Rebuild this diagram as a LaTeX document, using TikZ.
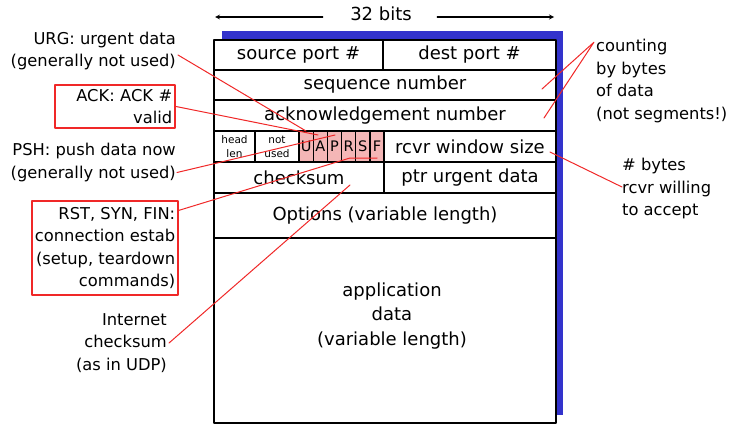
\documentclass[tikz,border=0pt]{standalone}
\usepackage{fontspec}
\setmainfont{DejaVu Sans}
\usetikzlibrary{positioning,calc}
\definecolor{hdrblue}{RGB}{51,51,204}
\definecolor{flagpink}{RGB}{244,182,182}
\definecolor{notered}{RGB}{240,40,40}
\begin{document}
\begin{tikzpicture}[x=1pt, y=-1pt, line cap=round, line join=round, >=stealth]
			\tikzset{field/.style={draw, line width=1.3pt, inner sep=0pt, outer sep=0pt, anchor=north west, font=\fontsize{18}{19}\selectfont},
				flag/.style={field, fill=flagpink, minimum width=14.17pt, minimum height=31pt, font=\fontsize{14.5}{16}\selectfont},
				tiny/.style={field, minimum height=31pt, align=center, font=\fontsize{10.5}{14}\selectfont},
				note/.style={font=\fontsize{16.3}{22.5}\selectfont, inner sep=2pt},
				notebox/.style={note, draw=notered, line width=1.6pt, inner xsep=3pt},
				callout/.style={draw=notered, line width=1pt}}
			\useasboundingbox (0,0) rectangle (740,431);
			% segment with its shadow
			\fill[hdrblue] (222,31) rectangle (563,415);
			\fill[white] (214,40) rectangle (556,423);
			\node[field, minimum width=169pt, minimum height=30pt] (srcport) at (214,40) {source port \#};
			\node[field, minimum width=173pt, minimum height=30pt] (dstport) at (383,40) {dest port \#};
			\node[field, minimum width=342pt, minimum height=30pt] (seqnum) at (214,70) {sequence number};
			\node[field, minimum width=342pt, minimum height=31pt] (acknum) at (214,100) {acknowledgement number};
			\node[tiny, minimum width=41pt] (hlen) at (214,131) {head\\len};
			\node[tiny, minimum width=44pt] (unused) at (255,131) {not\\used};
			\foreach \f [count=\i from 0] in {U,A,P,R,S,F}
				\node[flag] (flag\f) at (299+\i*14.17,131) {\f};
			\node[field, minimum width=172pt, minimum height=31pt] (rwnd) at (384,131) {rcvr window size};
			\node[field, minimum width=170pt, minimum height=31pt] (csum) at (214,162) {checksum};
			\node[field, minimum width=172pt, minimum height=31pt] (urgptr) at (384,162) {ptr urgent data};
			\node[field, minimum width=342pt, minimum height=45pt] (opts) at (214,193) {Options (variable length)};
			\node[field, minimum width=342pt, minimum height=185pt] (appdata) at (214,238) {};
			\node[align=center, font=\fontsize{18}{24.5}\selectfont] (apptext) at (392,316) {application\\data\\(variable length)};
			% 32 bits
			\node[font=\fontsize{18}{19}\selectfont] (bits) at (381,14) {32 bits};
			\coordinate (bitsL) at (215,17);
			\coordinate (bitsR) at (554,17);
			\draw[->, line width=1.2pt] ($(bits.west)+(-24,3)$) -- (bitsL);
			\draw[->, line width=1.2pt] ($(bits.east)+(22,3)$) -- (bitsR);
			% notes on the left
			\node[note, align=right, anchor=east] (urgnote) at (178,51) {URG: urgent data\\(generally not used)};
			\node[notebox, align=right, anchor=east, minimum width=120pt, minimum height=43pt, text width=114pt] (acknote) at (176,106.5) {ACK: ACK \#\\valid};
			\node[note, align=right, anchor=east] (pshnote) at (178,162.5) {PSH: push data now\\(generally not used)};
			\node[notebox, align=right, anchor=east, inner ysep=6pt] (rstnote) at (179,248) {RST, SYN, FIN:\\connection estab\\(setup, teardown\\commands)};
			\node[note, align=right, anchor=east] (csumnote) at (169,343) {Internet\\checksum\\(as in UDP)};
			% notes on the right
			\node[note, align=left, anchor=west] (countnote) at (594,81) {counting\\by bytes\\of data\\(not segments!)};
			\node[note, align=left, anchor=west] (rwndnote) at (620,189) {\# bytes\\rcvr willing\\to accept};
			% red pointers
			\coordinate (urgend) at (306,131);
			\coordinate (ackend) at (318,135);
			\coordinate (pshend) at (335,135);
			\coordinate (rstbend) at (350,158);
			\coordinate (rstend) at (377,158);
			\coordinate (csumend) at (350,185);
			\coordinate (seqend) at (542,89);
			\coordinate (ackcnt) at (544,118);
			\coordinate (rwndend) at (550,152);
			\draw[callout] ($(urgnote.east)+(0,4)$) -- (urgend);
			\draw[callout] (acknote.east) -- (ackend);
			\draw[callout] ($(pshnote.east)+(-1,10)$) -- (pshend);
			\draw[callout] ($(rstnote.north east)+(0,10)$) -- (rstbend) -- (rstend);
			\draw[callout] (csumnote.east) -- (csumend);
			\draw[callout] (seqend) -- ($(countnote.north west)+(0,5)$) -- (ackcnt);
			\draw[callout] (rwndend) -- ($(rwndnote.west)+(2,-2)$);
		\end{tikzpicture}
\end{document}
